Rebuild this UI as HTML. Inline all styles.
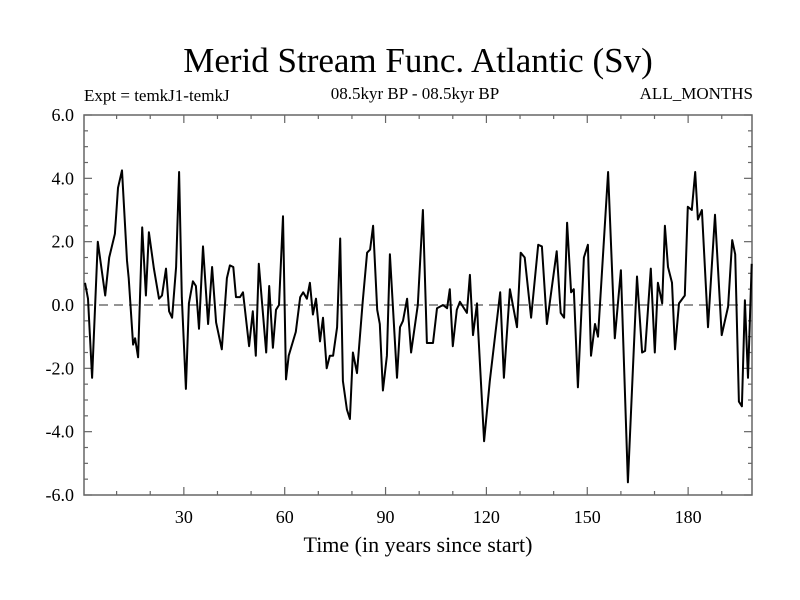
<!DOCTYPE html>
<html><head><meta charset="utf-8"><style>
html,body{margin:0;padding:0;background:#fff}
svg{display:block}
text{font-family:"Liberation Serif",serif;fill:#000}
</style></head><body>
<svg id="chart" width="800" height="600" viewBox="0 0 800 600" xmlns="http://www.w3.org/2000/svg">
<text x="418" y="72" font-size="35" text-anchor="middle">Merid Stream Func. Atlantic (Sv)</text>
<text x="84" y="101" font-size="17">Expt = temkJ1-temkJ</text>
<text x="415" y="99" font-size="17" text-anchor="middle">08.5kyr BP - 08.5kyr BP</text>
<text x="753" y="99" font-size="17" text-anchor="end">ALL_MONTHS</text>
<text x="418" y="552" font-size="22" text-anchor="middle">Time (in years since start)</text>
<g id="plot"></g>
</svg>
<script>
const years = [0.6,1.5,2.7,4.4,6.6,7.8,9.5,10.4,11.6,13.1,13.6,14.9,15.5,16.4,17.6,18.7,19.6,21.1,22.6,23.5,24.7,25.6,26.5,27.7,28.6,29.4,30.6,31.5,32.7,33.6,
34.5,35.7,37.2,38.4,39.6,41.3,42.8,43.7,44.7,45.5,46.7,47.6,49.4,50.5,51.4,52.3,54.5,55.4,56.5,57.4,58.3,59.5,60.4,61.2,63.3,64.6,65.5,66.6,67.5,
68.4,69.3,70.5,71.4,72.5,73.4,74.4,75.6,76.5,77.3,78.5,79.4,80.3,81.5,83.2,84.5,85.4,86.3,87.5,88.3,89.2,90.4,91.3,93.4,94.3,95.2,96.4,97.6,
99.6,101.1,102.3,103.3,104.1,105.3,107.1,108.3,109.1,110.0,111.2,112.1,114.2,115.1,116.0,117.2,117.5,119.3,121.0,124.1,125.2,127.0,129.1,130.2,131.4,
133.3,135.4,136.5,138.0,140.9,142.1,143.1,144.0,145.2,146.0,147.2,149.0,150.2,151.1,152.3,153.2,156.2,158.2,160.0,162.1,164.8,
166.3,167.2,168.9,170.1,171.0,172.3,173.1,174.0,175.2,176.1,177.3,179.0,179.9,181.1,182.1,182.9,184.1,185.9,188.0,190.0,191.9,193.1,194.0,195.1,196.0,196.9,197.8,198.9];
const values = [0.7,0.2,-2.3,2.0,0.3,1.5,2.25,3.7,4.25,1.4,0.85,-1.25,-1.05,-1.65,2.45,0.3,2.3,1.15,0.2,0.3,1.15,-0.2,-0.4,1.2,4.2,0.25,-2.65,0.05,0.75,0.6,
-0.75,1.85,-0.6,1.2,-0.55,-1.4,0.85,1.25,1.2,0.25,0.25,0.4,-1.3,-0.2,-1.6,1.3,-1.5,0.6,-1.35,-0.15,0.0,2.8,-2.35,-1.6,-0.85,0.25,0.4,0.2,0.7,
-0.3,0.2,-1.15,-0.4,-2.0,-1.6,-1.6,-0.7,2.1,-2.4,-3.3,-3.6,-1.5,-2.15,0.1,1.65,1.75,2.5,-0.15,-0.6,-2.7,-1.6,1.6,-2.3,-0.7,-0.5,0.2,-1.5,
0.0,3.0,-1.2,-1.2,-1.2,-0.1,0.0,-0.1,0.5,-1.3,-0.15,0.1,-0.25,0.95,-0.95,0.05,-0.7,-4.3,-2.4,0.4,-2.3,0.5,-0.7,1.65,1.5,
-0.4,1.9,1.85,-0.6,1.7,-0.25,-0.4,2.6,0.4,0.5,-2.6,1.5,1.9,-1.6,-0.6,-1.0,4.2,-1.05,1.1,-5.6,0.9,
-1.5,-1.45,1.15,-1.5,0.7,0.05,2.5,1.2,0.7,-1.4,0.05,0.3,3.1,3.0,4.2,2.7,3.0,-0.7,2.85,-0.95,-0.05,2.05,1.6,-3.05,-3.2,0.15,-2.3,1.3];
const xTickValues = [30,60,90,120,150,180];
const yTickValues = [-6,-4,-2,0,2,4,6];
const yTickLabels = ["-6.0","-4.0","-2.0","0.0","2.0","4.0","6.0"];

const L=84,R=752,T=115,B=495, X0=0.3, X1=199, Y0=-6, Y1=6;
const sx=v=>L+(v-X0)/(X1-X0)*(R-L);
const sy=v=>B-(v-Y0)/(Y1-Y0)*(B-T);
const NS='http://www.w3.org/2000/svg';
const g=document.getElementById('plot');
function mk(tag,attrs,parent){const e=document.createElementNS(NS,tag);for(const k in attrs)e.setAttribute(k,attrs[k]);(parent||g).appendChild(e);return e;}

const z=mk('line',{x1:L,x2:R,y1:sy(0),y2:sy(0),stroke:'#555','stroke-width':1.2,'stroke-dasharray':'9,6'});



const fr=mk('rect',{x:L,y:T,width:R-L,height:B-T,fill:'none',stroke:'#666','stroke-width':1.5});



for(let v=10;v<X1;v+=10){
  const major=v%30===0, len=major?8:4;
  const t1=mk('line',{x1:sx(v),x2:sx(v),y1:B,y2:B-len,stroke:'#666','stroke-width':1.2});
  
  
  const t2=mk('line',{x1:sx(v),x2:sx(v),y1:T,y2:T+len,stroke:'#666','stroke-width':1.2});
  
  
}
xTickValues.forEach(v=>{
  const t=mk('text',{x:sx(v),y:523,'font-size':18,'text-anchor':'middle'});
  t.textContent=String(v);
  
  
});
for(let v=Y0;v<=Y1+0.001;v+=0.5){
  const major=Math.abs(v%2)<0.001, len=major?8:4;
  const t1=mk('line',{x1:L,x2:L+len,y1:sy(v),y2:sy(v),stroke:'#666','stroke-width':1.2});
  
  
  const t2=mk('line',{x1:R,x2:R-len,y1:sy(v),y2:sy(v),stroke:'#666','stroke-width':1.2});
  
  
}
yTickValues.forEach((v,i)=>{
  const t=mk('text',{x:74,y:sy(v)+6,'font-size':18,'text-anchor':'end'});
  t.textContent=yTickLabels[i];
  
  
});
const pts=years.map((y,i)=>sx(y).toFixed(1)+','+sy(values[i]).toFixed(1)).join(' ');
const line=mk('polyline',{points:pts,fill:'none',stroke:'#000','stroke-width':2,'stroke-linejoin':'round'});


</script>
</body></html>
